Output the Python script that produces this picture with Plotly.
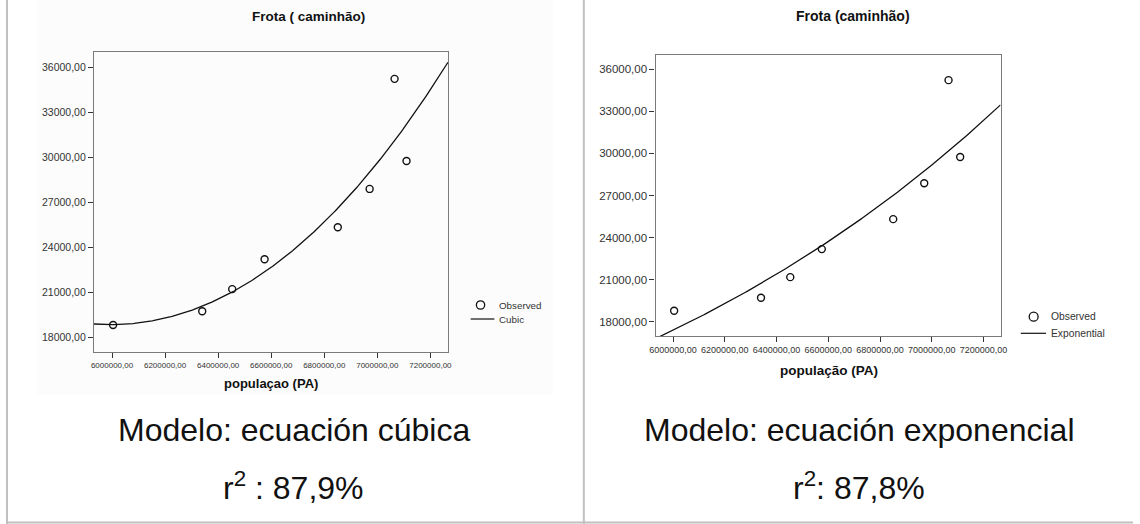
import numpy as np
import plotly.graph_objects as go

W, H = 1140, 524
FONT = "Liberation Sans, Arial, sans-serif"

# Observed values: population of Pará vs. truck fleet
populacao = [6004000, 6340000, 6453000, 6575000, 6851000, 6971000, 7065000, 7110000]
frota = [18800, 19720, 21190, 23185, 25318, 27872, 35210, 29735]

y_ticks = [18000, 21000, 24000, 27000, 30000, 33000, 36000]
y_tick_text = ["18000,00", "21000,00", "24000,00", "27000,00", "30000,00", "33000,00", "36000,00"]
x_ticks = [6000000, 6200000, 6400000, 6600000, 6800000, 7000000, 7200000]
x_tick_text = ["6000000,00", "6200000,00", "6400000,00", "6600000,00",
               "6800000,00", "7000000,00", "7200000,00"]

x_range = [5932000, 7266000]
y_range = [17000, 37000]

# --- fitted models -------------------------------------------------------
X = np.array(populacao, dtype=float) / 1e6
Y = np.array(frota, dtype=float)
grid = np.linspace(x_range[0], x_range[1], 300)
G = grid / 1e6

# cubic model (constant, linear and cubic terms)
A = np.column_stack([np.ones_like(X), X, X ** 3])
coef, *_ = np.linalg.lstsq(A, Y, rcond=None)
cubic = coef[0] + coef[1] * G + coef[2] * G ** 3

# exponential model, fitted on ln(y)
b1, lnb0 = np.polyfit(X, np.log(Y), 1)
expo = np.exp(lnb0 + b1 * G)


def px_x(v):
    return v / W


def px_y(v):
    return 1 - v / H


fig = go.Figure()

panels = [
    dict(ax="", l=89, r=447, t=52, b=352, fit=cubic, ysize=10.5, xsize=8),
    dict(ax="2", l=657, r=1006, t=55, b=336, fit=expo, ysize=11.5, xsize=9),
]

for p in panels:
    xa = "x" + p["ax"]
    ya = "y" + p["ax"]
    fig.add_trace(go.Scatter(
        x=grid, y=p["fit"], mode="lines", xaxis=xa, yaxis=ya,
        line=dict(color="#111111", width=1.3), showlegend=False, hoverinfo="skip"))
    fig.add_trace(go.Scatter(
        x=populacao, y=frota, mode="markers", xaxis=xa, yaxis=ya,
        marker=dict(symbol="circle-open", size=7, color="#111111", line=dict(width=1.4)),
        showlegend=False))
    axis_common = dict(showline=True, linecolor="#7a7a7a", linewidth=1.2, mirror=True,
                       ticks="outside", ticklen=5, tickwidth=1, tickcolor="#333333",
                       showgrid=False, zeroline=False)
    fig.update_layout({
        "xaxis" + p["ax"]: dict(
            axis_common, domain=[px_x(p["l"]), px_x(p["r"])], range=x_range,
            tickvals=x_ticks, ticktext=x_tick_text, anchor=ya,
            tickfont=dict(family=FONT, size=p["xsize"], color="#333333")),
        "yaxis" + p["ax"]: dict(
            axis_common, domain=[px_y(p["b"]), px_y(p["t"])], range=y_range,
            tickvals=y_ticks, ticktext=y_tick_text, anchor=xa,
            tickfont=dict(family=FONT, size=p["ysize"], color="#333333")),
    })

shapes = [
    # faint backdrop behind the left chart
    dict(type="rect", xref="paper", yref="paper", x0=px_x(32), x1=px_x(553),
         y0=px_y(395), y1=px_y(0), fillcolor="#fcfcfc", line=dict(width=0), layer="below"),
    # table borders
    dict(type="line", xref="paper", yref="paper", x0=px_x(1), x1=px_x(1), y0=0, y1=1,
         line=dict(color="#c0c0c0", width=2)),
    dict(type="line", xref="paper", yref="paper", x0=px_x(584.5), x1=px_x(584.5), y0=0, y1=1,
         line=dict(color="#c0c0c0", width=2)),
    dict(type="line", xref="paper", yref="paper", x0=0, x1=1, y0=px_y(522.5), y1=px_y(522.5),
         line=dict(color="#c0c0c0", width=2)),
]

annotations = []


def text(s, x, y, size, bold=False, xanchor="center", color="#111111"):
    annotations.append(dict(
        text="<b>%s</b>" % s if bold else s, x=px_x(x), y=px_y(y), xref="paper", yref="paper",
        xanchor=xanchor, yanchor="middle", showarrow=False,
        font=dict(family=FONT, size=size, color=color)))


# chart titles and axis titles
text("Frota ( caminhão)", 306, 16, 13.5, bold=True)
text("populaçao (PA)", 268, 383, 13, bold=True)
text("Frota (caminhão)", 857, 16, 14, bold=True)
text("população (PA)", 832, 370, 13.5, bold=True)

# legends
legends = [
    dict(cx=480, cy=305, r=4.2, lx0=470, lx1=494, ly=319, tx=496.5, labels=("Observed", "Cubic"), size=9.8),
    dict(cx=1039.5, cy=316.7, r=4.5, lx0=1026.5, lx1=1052, ly=333.3, tx=1055, labels=("Observed", "Exponential"), size=10.3),
]
for lg in legends:
    shapes.append(dict(type="circle", xref="paper", yref="paper",
                       x0=px_x(lg["cx"] - lg["r"]), x1=px_x(lg["cx"] + lg["r"]),
                       y0=px_y(lg["cy"] + lg["r"]), y1=px_y(lg["cy"] - lg["r"]),
                       line=dict(color="#111111", width=1.3)))
    shapes.append(dict(type="line", xref="paper", yref="paper",
                       x0=px_x(lg["lx0"]), x1=px_x(lg["lx1"]),
                       y0=px_y(lg["ly"]), y1=px_y(lg["ly"]),
                       line=dict(color="#111111", width=1.2)))
    text(lg["labels"][0], lg["tx"], lg["cy"], lg["size"], xanchor="left", color="#333333")
    text(lg["labels"][1], lg["tx"], lg["ly"], lg["size"], xanchor="left", color="#333333")

# model captions
text("Modelo: ecuación cúbica", 291, 430, 32)
text("r<sup>2</sup> : 87,9%", 291, 486, 32)
text("Modelo: ecuación exponencial", 863, 430, 32)
text("r<sup>2</sup>: 87,8%", 863, 486, 32)

fig.update_layout(
    width=W, height=H, autosize=False,
    margin=dict(l=0, r=0, t=0, b=0),
    paper_bgcolor="white", plot_bgcolor="rgba(0,0,0,0)",
    shapes=shapes, annotations=annotations,
    font=dict(family=FONT),
)

fig.write_html("out.html")
